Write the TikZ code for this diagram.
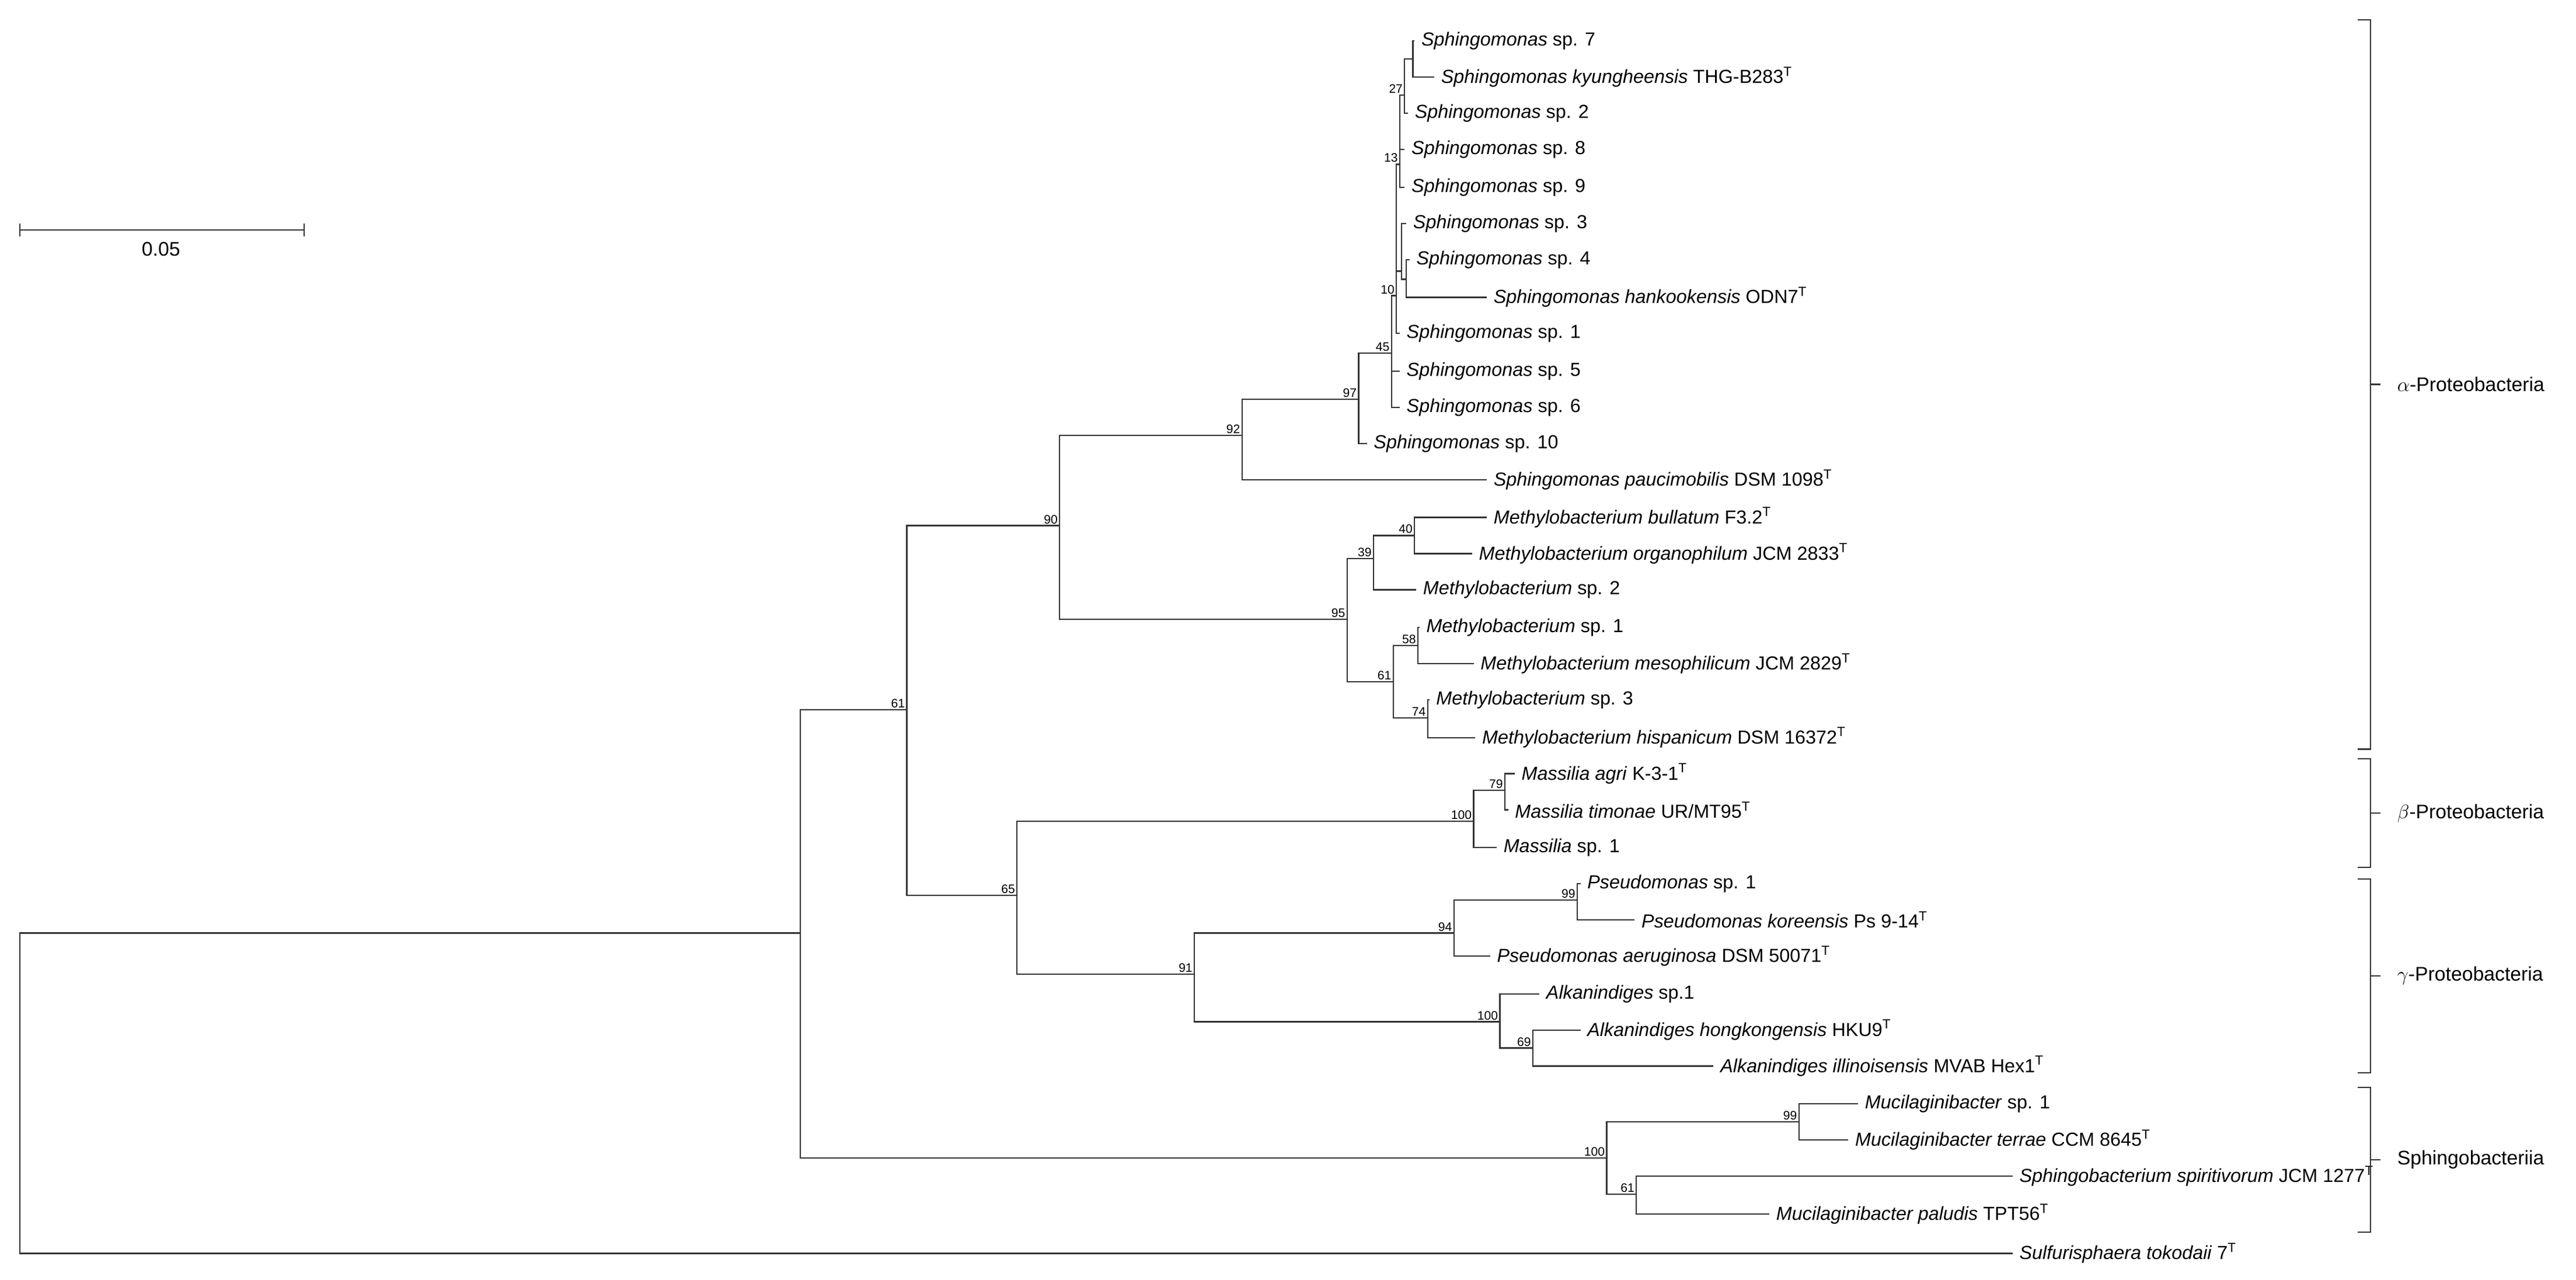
\documentclass[tikz,border=0pt]{standalone}
\usepackage{fontspec}
\setmainfont{Liberation Sans}
\begin{document}
\begin{tikzpicture}[x=1pt,y=-1pt,
  br/.style={line width=0.8pt,draw=black!80},
  leaf/.style={anchor=west,inner sep=0pt,xshift=4pt,font=\fontsize{11.5}{12}\selectfont},
  bs/.style={anchor=south east,inner sep=1pt,font=\fontsize{7.5}{8}\selectfont},
  grp/.style={anchor=west,inner sep=0pt,font=\fontsize{12}{14}\selectfont}]
\useasboundingbox (0,0) rectangle (1568,779);
\newcommand\lf[4]{\coordinate (#1) at (#2,#3); \node[leaf] (#1-l) at (#1) {#4};}
\newcommand\nd[4]{\coordinate (#1) at (#2,#3); \node[bs] (#1-s) at (#1) {#4};}
\newcommand\Tsup{\textsuperscript{T}}
% internal nodes
\coordinate (root) at (12,665);
\coordinate (n487) at (487,568);
\nd{n552}{552}{432}{61}
\nd{n90}{645}{320}{90}
\nd{n92}{756}{265}{92}
\nd{n97}{827}{243}{97}
\nd{n45}{847}{215}{45}
\nd{n10}{850}{180}{10}
\nd{n13}{852}{100}{13}
\nd{n27}{855}{58}{27}
\coordinate (n7) at (860,36);
\coordinate (nH) at (853,165);
\coordinate (n4) at (856,170);
\nd{n95}{820}{377}{95}
\nd{n39}{836}{340}{39}
\nd{n40}{861}{326}{40}
\nd{n61}{848}{415}{61}
\nd{n58}{863}{393}{58}
\nd{n74}{869}{437}{74}
\nd{n65}{619}{545}{65}
\nd{nM}{897}{500}{100}
\nd{n79}{916}{481}{79}
\nd{n91}{727}{593}{91}
\nd{n94}{885}{568}{94}
\nd{n99}{960}{548}{99}
\nd{nA}{913}{622}{100}
\nd{n69}{933}{638}{69}
\nd{nS}{978}{705}{100}
\nd{n99S}{1095}{683}{99}
\nd{n61S}{996}{727}{61}
% leaves
\lf{sp7}{861}{25}{\textit{Sphingomonas} sp. 7}
\lf{kyung}{873}{47}{\textit{Sphingomonas kyungheensis} THG-B283\Tsup}
\lf{sp2}{857}{69}{\textit{Sphingomonas} sp. 2}
\lf{sp8}{855}{91}{\textit{Sphingomonas} sp. 8}
\lf{sp9}{855}{114}{\textit{Sphingomonas} sp. 9}
\lf{sp3}{856}{136}{\textit{Sphingomonas} sp. 3}
\lf{sp4}{858}{158}{\textit{Sphingomonas} sp. 4}
\lf{hank}{905}{181}{\textit{Sphingomonas hankookensis} ODN7\Tsup}
\lf{sp1}{852}{203}{\textit{Sphingomonas} sp. 1}
\lf{sp5}{852}{226}{\textit{Sphingomonas} sp. 5}
\lf{sp6}{852}{248}{\textit{Sphingomonas} sp. 6}
\lf{sp10}{832}{270}{\textit{Sphingomonas} sp. 10}
\lf{pauci}{905}{292}{\textit{Sphingomonas paucimobilis} DSM 1098\Tsup}
\lf{bull}{905}{315}{\textit{Methylobacterium bullatum} F3.2\Tsup}
\lf{organo}{896}{337}{\textit{Methylobacterium organophilum} JCM 2833\Tsup}
\lf{msp2}{862}{359}{\textit{Methylobacterium} sp. 2}
\lf{msp1}{864}{382}{\textit{Methylobacterium} sp. 1}
\lf{meso}{897}{404}{\textit{Methylobacterium mesophilicum} JCM 2829\Tsup}
\lf{msp3}{870}{426}{\textit{Methylobacterium} sp. 3}
\lf{hisp}{898}{449}{\textit{Methylobacterium hispanicum} DSM 16372\Tsup}
\lf{agri}{922}{471}{\textit{Massilia agri} K-3-1\Tsup}
\lf{timon}{918}{493}{\textit{Massilia timonae} UR/MT95\Tsup}
\lf{masp1}{911}{516}{\textit{Massilia} sp. 1}
\lf{psp1}{962}{538}{\textit{Pseudomonas} sp. 1}
\lf{kor}{995}{560}{\textit{Pseudomonas koreensis} Ps 9-14\Tsup}
\lf{aerug}{907}{582}{\textit{Pseudomonas aeruginosa} DSM 50071\Tsup}
\lf{alk1}{937}{605}{\textit{Alkanindiges} sp.1}
\lf{hong}{962}{627}{\textit{Alkanindiges hongkongensis} HKU9\Tsup}
\lf{illin}{1043}{649}{\textit{Alkanindiges illinoisensis} MVAB Hex1\Tsup}
\lf{muc1}{1131}{672}{\textit{Mucilaginibacter} sp. 1}
\lf{terrae}{1125}{694}{\textit{Mucilaginibacter terrae} CCM 8645\Tsup}
\lf{spirit}{1225}{716}{\textit{Sphingobacterium spiritivorum} JCM 1277\Tsup}
\lf{palud}{1077}{739}{\textit{Mucilaginibacter paludis} TPT56\Tsup}
\lf{sulf}{1225}{763}{\textit{Sulfurisphaera tokodaii} 7\Tsup}
% branches
\foreach \p/\c in {root/n487,root/sulf,n487/n552,n487/nS,n552/n90,n552/n65,
  n90/n92,n90/n95,n92/n97,n92/pauci,n97/n45,n97/sp10,n45/n10,n45/sp5,n45/sp6,
  n10/n13,n10/nH,n10/sp1,n13/n27,n13/sp8,n13/sp9,n27/n7,n27/sp2,n7/sp7,n7/kyung,
  nH/sp3,nH/n4,n4/sp4,n4/hank,n95/n39,n95/n61,n39/n40,n39/msp2,n40/bull,n40/organo,
  n61/n58,n61/n74,n58/msp1,n58/meso,n74/msp3,n74/hisp,n65/nM,n65/n91,nM/n79,nM/masp1,
  n79/agri,n79/timon,n91/n94,n91/nA,n94/n99,n94/aerug,n99/psp1,n99/kor,nA/alk1,nA/n69,
  n69/hong,n69/illin,nS/n99S,nS/n61S,n99S/muc1,n99S/terrae,n61S/spirit,n61S/palud}
  \draw[br] (\p) |- (\c);
% group brackets
\foreach \n/\a/\b/\t in {ga/12/456/$\alpha$-Proteobacteria,gb/462/528/$\beta$-Proteobacteria,
  gg/535/653/$\gamma$-Proteobacteria,gs/662/750/Sphingobacteriia}{
  \coordinate (\n-t) at (1435,\a); \coordinate (\n-b) at (1435,\b);
  \coordinate (\n-m) at (1449,{(\a+\b)/2});
  \draw[br] (\n-t) -- ++(8,0) |- (\n-b);
  \draw[br] (\n-m) -- ++(-6,0);
  \node[grp] (\n-l) at ([xshift=10pt]\n-m) {\t};
}
% scale bar
\coordinate (s0) at (12,140); \coordinate (s1) at (185,140);
\draw[br] (s0) -- (s1);
\draw[br] ([yshift=-4]s0) -- ([yshift=4]s0);
\draw[br] ([yshift=-4]s1) -- ([yshift=4]s1);
\node[font=\fontsize{12}{14}\selectfont,anchor=north] (sl) at (98,144) {0.05};
\end{tikzpicture}
\end{document}
